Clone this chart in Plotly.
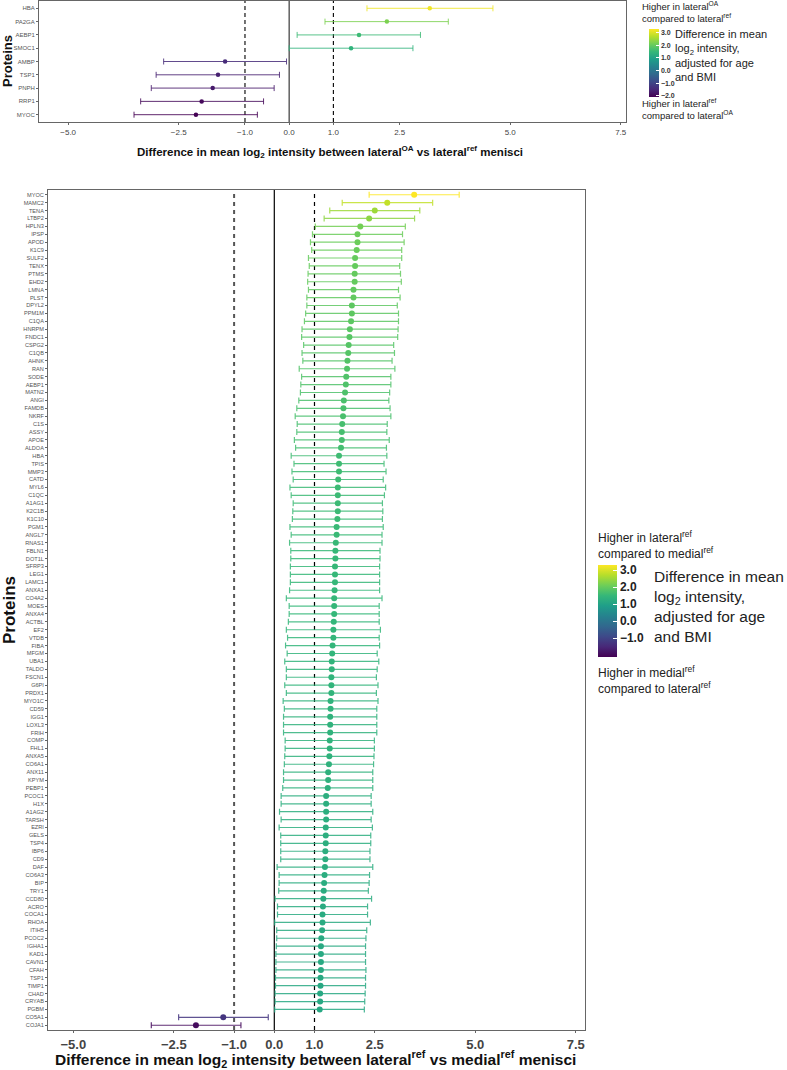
import plotly.graph_objects as go
from plotly.colors import sample_colorscale

W, H = 787, 1070

# ---------------- data ----------------
top_proteins = ["HBA", "PA2GA", "AEBP1", "SMOC1", "AMBP", "TSP1", "PNPH", "RRP1", "MYOC"]
top_est = [3.18, 2.21, 1.58, 1.40, -1.45, -1.61, -1.73, -1.98, -2.11]
top_lo = [1.76, 0.81, 0.18, 0.00, -2.84, -3.01, -3.12, -3.36, -3.51]
top_hi = [4.61, 3.60, 2.97, 2.80, -0.06, -0.22, -0.34, -0.58, -0.72]

bot_proteins = [
    "MYOC", "MAMC2", "TENA", "LTBP2", "HPLN3", "IPSP", "APOD", "K1C9", "SULF2", "TENX",
    "PTMS", "EHD2", "LMNA", "PLST", "DPYL2", "PPM1M", "C1QA", "HNRPM", "FNDC1", "CSPG2",
    "C1QB", "AHNK", "RAN", "SODE", "AEBP1", "MATN2", "ANGI", "FAMDB", "NKRF", "C1S",
    "ASSY", "APOE", "ALDOA", "HBA", "TPIS", "MMP3", "CATD", "MYL6", "C1QC", "A1AG1",
    "K2C1B", "K1C10", "PGM1", "ANGL7", "RNAS1", "FBLN1", "DOT1L", "SFRP3", "LEG1", "LAMC1",
    "ANXA1", "CO4A2", "MOES", "ANXA4", "ACTBL", "EF2", "VTDB", "FIBA", "MFGM", "UBA1",
    "TALDO", "FSCN1", "G6PI", "PRDX1", "MYO1C", "CD59", "IGG1", "LOXL3", "FRIH", "COMP",
    "FHL1", "ANXA5", "CO6A1", "ANX11", "KPYM", "PEBP1", "PCOC1", "H1X", "A1AG2", "TARSH",
    "EZRI", "GELS", "TSP4", "IBP6", "CD9", "DAF", "CO6A3", "BIP", "TRY1", "CCD80",
    "ACRO", "COCA1", "RHOA", "ITIH5", "PCOC2", "IGHA1", "KAD1", "CAVN1", "CFAH", "TSP1",
    "TIMP1", "CHAD", "CRYAB", "PGBM", "CO5A1", "COJA1",
]
bot_est = [
    3.48, 2.81, 2.50, 2.36, 2.14, 2.07, 2.07, 2.05, 2.01, 2.01,
    2.00, 2.00, 1.97, 1.97, 1.93, 1.93, 1.91, 1.88, 1.87, 1.85,
    1.84, 1.82, 1.81, 1.79, 1.78, 1.76, 1.73, 1.72, 1.71, 1.69,
    1.68, 1.68, 1.66, 1.61, 1.61, 1.61, 1.59, 1.58, 1.58, 1.58,
    1.58, 1.57, 1.55, 1.55, 1.53, 1.52, 1.52, 1.51, 1.51, 1.51,
    1.50, 1.49, 1.49, 1.49, 1.48, 1.47, 1.47, 1.45, 1.44, 1.43,
    1.43, 1.42, 1.42, 1.42, 1.40, 1.40, 1.39, 1.39, 1.39, 1.38,
    1.38, 1.37, 1.36, 1.34, 1.34, 1.33, 1.29, 1.29, 1.29, 1.29,
    1.28, 1.28, 1.28, 1.27, 1.27, 1.26, 1.25, 1.24, 1.23, 1.22,
    1.21, 1.20, 1.20, 1.19, 1.17, 1.16, 1.16, 1.16, 1.16, 1.15,
    1.15, 1.14, 1.14, 1.13, -1.27, -1.95,
]
bot_lo = [
    2.36, 1.69, 1.38, 1.24, 1.02, 0.95, 0.90, 0.93, 0.85, 0.87,
    0.84, 0.83, 0.85, 0.81, 0.81, 0.78, 0.75, 0.69, 0.68, 0.73,
    0.69, 0.71, 0.62, 0.68, 0.66, 0.65, 0.61, 0.56, 0.52, 0.57,
    0.56, 0.50, 0.53, 0.42, 0.49, 0.44, 0.47, 0.39, 0.42, 0.47,
    0.46, 0.45, 0.39, 0.42, 0.38, 0.41, 0.41, 0.40, 0.40, 0.40,
    0.38, 0.30, 0.37, 0.37, 0.35, 0.30, 0.33, 0.28, 0.32, 0.26,
    0.30, 0.30, 0.26, 0.30, 0.22, 0.25, 0.23, 0.23, 0.23, 0.27,
    0.27, 0.26, 0.25, 0.23, 0.23, 0.21, 0.17, 0.17, 0.13, 0.17,
    0.12, 0.16, 0.16, 0.16, 0.16, 0.07, 0.12, 0.12, 0.11, 0.02,
    0.08, 0.08, 0.01, 0.06, 0.06, 0.05, 0.04, 0.04, 0.04, 0.03,
    0.03, 0.02, 0.02, 0.01, -2.38, -3.06,
]
bot_hi = [
    4.60, 3.94, 3.62, 3.49, 3.26, 3.19, 3.23, 3.17, 3.17, 3.12,
    3.14, 3.16, 3.09, 3.13, 3.06, 3.09, 3.09, 3.08, 3.07, 2.97,
    2.99, 2.93, 3.00, 2.90, 2.90, 2.87, 2.85, 2.88, 2.90, 2.81,
    2.80, 2.86, 2.79, 2.80, 2.73, 2.78, 2.71, 2.77, 2.74, 2.69,
    2.70, 2.69, 2.71, 2.68, 2.68, 2.63, 2.63, 2.62, 2.62, 2.62,
    2.62, 2.68, 2.61, 2.61, 2.61, 2.64, 2.61, 2.62, 2.56, 2.60,
    2.56, 2.54, 2.58, 2.54, 2.58, 2.55, 2.55, 2.55, 2.55, 2.49,
    2.49, 2.48, 2.47, 2.45, 2.45, 2.45, 2.41, 2.41, 2.45, 2.41,
    2.44, 2.40, 2.40, 2.38, 2.38, 2.45, 2.37, 2.36, 2.34, 2.42,
    2.32, 2.32, 2.39, 2.30, 2.28, 2.27, 2.27, 2.27, 2.28, 2.27,
    2.27, 2.26, 2.25, 2.24, -0.15, -0.83,
]

x_ticks = [-5.0, -2.5, -1.0, 0.0, 1.0, 2.5, 5.0, 7.5]
x_ticktext = ["\u22125.0", "\u22122.5", "\u22121.0", "0.0", "1.0", "2.5", "5.0", "7.5"]
top_cb_ticks = [3.0, 2.0, 1.0, 0.0, -1.0, -2.0]
bot_cb_ticks = [3.0, 2.0, 1.0, 0.0, -1.0]
ref_lines = [-1.0, 0.0, 1.0]

# ---------------- style ----------------
FONT = "Liberation Sans, Arial, sans-serif"
TOP_CMIN, TOP_CMAX = -2.1, 3.3
BOT_CMIN, BOT_CMAX = -2.1, 3.3


def px(x):
    return x / W


def py(y):
    return 1 - y / H


fig = go.Figure()


def add_panel(names, est, lo, hi, xa, ya, cax, cmin, cmax, lw, cap, msize):
    for n, e, l, h in zip(names, est, lo, hi):
        t = min(max((e - cmin) / (cmax - cmin), 0), 1)
        c = sample_colorscale("Viridis", [t])[0]
        c = c.replace("rgb(", "rgba(").replace(")", ", 0.85)")
        fig.add_trace(go.Scatter(
            x=[e], y=[n], mode="markers",
            marker=dict(size=1, color="rgba(0,0,0,0)"),
            error_x=dict(type="data", symmetric=False, array=[h - e], arrayminus=[e - l],
                         color=c, thickness=lw, width=cap),
            xaxis=xa, yaxis=ya, showlegend=False, hoverinfo="skip"))
    fig.add_trace(go.Scatter(
        x=est, y=names, mode="markers",
        marker=dict(size=msize, color=est, coloraxis=cax, line=dict(width=0)),
        xaxis=xa, yaxis=ya, showlegend=False))


add_panel(top_proteins, top_est, top_lo, top_hi, "x2", "y2", "coloraxis", TOP_CMIN, TOP_CMAX, 1.0, 3, 4.5)
add_panel(bot_proteins, bot_est, bot_lo, bot_hi, "x", "y", "coloraxis2", BOT_CMIN, BOT_CMAX, 1.2, 3, 6)

axis_common = dict(showgrid=False, zeroline=False, showline=True, mirror=True,
                   linecolor="#666666", linewidth=1, ticks="outside", ticklen=2,
                   tickcolor="#666666")

fig.update_layout(
    width=W, height=H,
    margin=dict(l=0, r=0, t=0, b=0),
    paper_bgcolor="white", plot_bgcolor="white",
    font=dict(family=FONT, color="#222222"),
    xaxis=dict(domain=[px(48), px(585)], anchor="y", range=[-5.63, 7.73],
               tickvals=x_ticks, ticktext=x_ticktext,
               tickfont=dict(family=FONT, size=13, color="#444444", weight="bold"),
               **axis_common),
    yaxis=dict(domain=[py(1030), py(190)], anchor="x", type="category",
               categoryorder="array", categoryarray=bot_proteins,
               range=[len(bot_proteins) - 1 + 0.6, -0.6],
               tickfont=dict(family=FONT, size=5.6, color="#555555"),
               **axis_common),
    xaxis2=dict(domain=[px(39), px(626)], anchor="y2", range=[-5.66, 7.62],
                tickvals=x_ticks, ticktext=x_ticktext,
                tickfont=dict(family=FONT, size=8, color="#444444"),
                **axis_common),
    yaxis2=dict(domain=[py(122), py(1)], anchor="x2", type="category",
                categoryorder="array", categoryarray=top_proteins,
                range=[len(top_proteins) - 1 + 0.55, -0.55],
                tickfont=dict(family=FONT, size=6, color="#555555"),
                **axis_common),
    coloraxis=dict(colorscale="Viridis", cmin=TOP_CMIN, cmax=TOP_CMAX,
                   colorbar=dict(x=px(649), xanchor="left", xpad=0, ypad=0,
                                 y=py(63), yanchor="middle", lenmode="pixels", len=68,
                                 thickness=10, outlinewidth=0,
                                 tickvals=top_cb_ticks,
                                 ticktext=["3.0", "2.0", "1.0", "0.0", "\u22121.0", "\u22122.0"],
                                 ticks="inside", ticklen=3, tickcolor="white",
                                 tickfont=dict(family=FONT, size=7, color="#333333", weight="bold"))),
    coloraxis2=dict(colorscale="Viridis", cmin=BOT_CMIN, cmax=BOT_CMAX,
                    colorbar=dict(x=px(598), xanchor="left", xpad=0, ypad=0,
                                  y=py(611), yanchor="middle", lenmode="pixels", len=92,
                                  thickness=19, outlinewidth=0,
                                  tickvals=bot_cb_ticks,
                                  ticktext=["3.0", "2.0", "1.0", "0.0", "\u22121.0"],
                                  ticks="inside", ticklen=4, tickcolor="white",
                                  tickfont=dict(family=FONT, size=12, color="#222222", weight="bold"))),
)

# reference lines
line_styles = {
    ("x", -1.0): dict(color="#555555", width=2, dash="4px,4px"),
    ("x", 0.0): dict(color="black", width=1.2),
    ("x", 1.0): dict(color="black", width=1.2, dash="4px,4px"),
    ("x2", -1.0): dict(color="black", width=1.1, dash="4px,3px"),
    ("x2", 0.0): dict(color="#555555", width=1.4),
    ("x2", 1.0): dict(color="black", width=1.1, dash="4px,3px"),
}
for xa, ya in (("x", "y"), ("x2", "y2")):
    for v in ref_lines:
        fig.add_shape(type="line", xref=xa, yref=f"{ya} domain", x0=v, x1=v, y0=0, y1=1,
                      line=line_styles[(xa, v)], layer="below")

ann = []
# axis titles
ann.append(dict(text="Difference in mean log<sub>2</sub> intensity between lateral<sup>OA</sup> vs lateral<sup>ref</sup> menisci",
                x=px(330), y=py(152), xref="paper", yref="paper", showarrow=False,
                xanchor="center", yanchor="middle",
                font=dict(family=FONT, size=11.5, color="#111111", weight="bold")))
ann.append(dict(text="Difference in mean log<sub>2</sub> intensity between lateral<sup>ref</sup> vs medial<sup>ref</sup> menisci",
                x=px(315), y=py(1059), xref="paper", yref="paper", showarrow=False,
                xanchor="center", yanchor="middle",
                font=dict(family=FONT, size=15.5, color="#111111", weight="bold")))
ann.append(dict(text="Proteins", x=px(7), y=py(61), xref="paper", yref="paper", showarrow=False,
                textangle=-90, xanchor="center", yanchor="middle",
                font=dict(family=FONT, size=13, color="#111111", weight="bold")))
ann.append(dict(text="Proteins", x=px(9), y=py(610), xref="paper", yref="paper", showarrow=False,
                textangle=-90, xanchor="center", yanchor="middle",
                font=dict(family=FONT, size=17, color="#111111", weight="bold")))

# top legend
ann.append(dict(text="Higher in lateral<sup>OA</sup><br>compared to lateral<sup>ref</sup>",
                x=px(640), y=py(12), xref="paper", yref="paper", showarrow=False,
                xanchor="left", yanchor="middle", align="left",
                font=dict(family=FONT, size=9.5, color="#222222")))
ann.append(dict(text="Difference in mean<br>log<sub>2</sub> intensity,<br>adjusted for age<br>and BMI",
                x=px(673), y=py(56), xref="paper", yref="paper", showarrow=False,
                xanchor="left", yanchor="middle", align="left",
                font=dict(family=FONT, size=11, color="#222222")))
ann.append(dict(text="Higher in lateral<sup>ref</sup><br>compared to lateral<sup>OA</sup>",
                x=px(640), y=py(109), xref="paper", yref="paper", showarrow=False,
                xanchor="left", yanchor="middle", align="left",
                font=dict(family=FONT, size=9.5, color="#222222")))

# bottom legend
ann.append(dict(text="Higher in lateral<sup>ref</sup><br>compared to medial<sup>ref</sup>",
                x=px(596), y=py(545), xref="paper", yref="paper", showarrow=False,
                xanchor="left", yanchor="middle", align="left",
                font=dict(family=FONT, size=12, color="#222222")))
ann.append(dict(text="Difference in mean<br>log<sub>2</sub> intensity,<br>adjusted for age<br>and BMI",
                x=px(652), y=py(606), xref="paper", yref="paper", showarrow=False,
                xanchor="left", yanchor="middle", align="left",
                font=dict(family=FONT, size=15.5, color="#222222")))
ann.append(dict(text="Higher in medial<sup>ref</sup><br>compared to lateral<sup>ref</sup>",
                x=px(596), y=py(680), xref="paper", yref="paper", showarrow=False,
                xanchor="left", yanchor="middle", align="left",
                font=dict(family=FONT, size=12, color="#222222")))

fig.update_layout(annotations=ann)

fig.write_html("out.html", config={"displayModeBar": False},
               post_script="document.body.style.margin='0px';document.body.style.overflow='hidden';")
